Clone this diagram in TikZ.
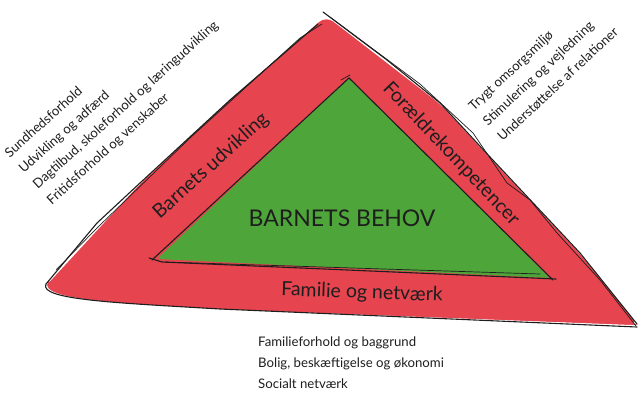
\documentclass[tikz,border=0pt]{standalone}
\usepackage{fontspec}
\setmainfont{Lato}
\definecolor{sred}{HTML}{E6444F}
\definecolor{sgreen}{HTML}{4EA63A}
\definecolor{ink}{HTML}{1E1E1E}
\begin{document}
\begin{tikzpicture}[x=1pt,y=-1pt,
  edge/.style={draw=ink,line width=1.1pt,line cap=round,line join=round},
  thin/.style={draw=ink,line width=0.7pt,line cap=round,line join=round},
  band/.style={text=ink,font=\fontsize{19.5}{22}\selectfont,inner sep=0pt},
  core/.style={text=ink,font=\fontsize{23}{26}\selectfont,inner sep=0pt},
  note/.style={text=ink,font=\fontsize{13.2}{21}\selectfont,align=left,inner sep=0pt}]
\useasboundingbox (0,0) rectangle (639,394);
% outer corners
\coordinate (OL) at (44,288);
\coordinate (OT) at (326,16);
\coordinate (OR) at (638,325);
% inner corners
\coordinate (IL) at (157,259);
\coordinate (IT) at (349,78);
\coordinate (IR) at (550,278);
% red band
\fill[sred,rounded corners=9pt] (OL) -- (140,184) -- (230,100) -- (OT) -- (440,104) -- (490,158) -- (580,254) -- (OR) -- (220,309) -- cycle;
\fill[sred] (48,282) .. controls (38,300) and (120,303) .. (220,309) -- (OR) -- (300,200) -- cycle;
% green core
\fill[sgreen,rounded corners=3pt] (IL) -- (IT) -- (IR) -- cycle;
% sketchy outlines of outer triangle
\draw[edge] (46,284) -- (97,223) -- (140,183) -- (230,100) -- (318,24);
\draw[thin] (56,270) -- (97,228) -- (190,138) -- (300,38) -- (322,24);
\draw[edge] (323,12) -- (387,60) -- (440,103) -- (490,157) -- (580,253) -- (637,324);
\draw[thin] (330,17) -- (420,84) -- (473,133) -- (507,183) -- (530,200) -- (557,233) -- (600,280) -- (636,326);
\draw[edge] (46,284) .. controls (38,300) and (120,303) .. (220,309) -- (637,327);
% outlines of inner triangle
\draw[edge] (152,260) -- (IT);
\draw[thin] (341,80) -- (350,75);
\draw[edge] (IT) -- (553,280);
\draw[edge] (149,258) -- (162,262) -- (556,279);
\draw[thin] (165,262) -- (540,274);
% band labels
\node[band,rotate=42] (bu) at (211,166) {Barnets udvikling};
\node[band,rotate=-46.5] (fk) at (451,154) {Forældrekompetencer};
\node[band,rotate=-2] (fn) at (362,293) {Familie og netværk};
\node[core] (bb) at (342,218) {BARNETS BEHOV};
% notes
\node[note,rotate=42,anchor=north west] (ln) at (3,151) {Sundhedsforhold\\Udvikling og adfærd\\Dagtilbud, skoleforhold og læringudvikling\\Fritidsforhold og venskaber};
\node[note,rotate=43,anchor=north west] (rn) at (467,104) {Trygt omsorgsmiljø\\Stimulering og vejledning\\Understøttelse af relationer};
\node[note,anchor=west,align=left] (bn) at (258,363) {Familieforhold og baggrund\\Bolig, beskæftigelse og økonomi\\Socialt netværk};
\end{tikzpicture}
\end{document}
